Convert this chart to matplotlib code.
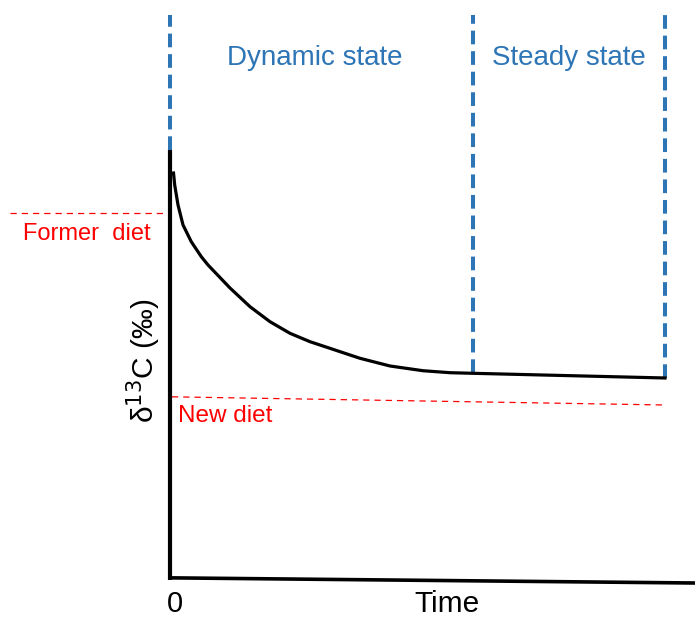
import matplotlib
matplotlib.use("Agg")
import matplotlib.pyplot as plt

# Curve (time, delta13C in arbitrary units)
curve_t = [0.71, 0.95, 1.62, 2.63, 4.30, 6.32, 7.68, 12.12, 16.16, 20.20, 24.24, 28.28,
           32.32, 36.36, 38.38, 44.44, 51.11, 56.57, 61.21, 100.0]
curve_v = [94.65, 91.86, 87.21, 82.56, 78.67, 75.19, 73.26, 67.91, 63.56, 60.07, 57.37, 55.42,
           53.88, 52.33, 51.56, 49.77, 48.67, 48.21, 48.07, 46.98]

# axes drawn as lines
yaxis_t = [0, 0]
yaxis_v = [0, 100]
xaxis_t = [0, 106.1]
xaxis_v = [0.5, -0.7]

# state boundaries (time, bottom value)
bound_t = [0, 61.2, 100.0]
bound_bottom = [100, 48.1, 47.0]
bound_top = 131.4

# diet lines
former_t = [-32.3, -0.4]
former_v = [85.3, 85.3]
new_t = [0.4, 100.0]
new_v = [42.6, 40.7]

state_labels = ["Dynamic state", "Steady state"]
state_label_t = [29.2, 80.6]

fig = plt.figure(figsize=(6.95, 6.21), dpi=100)
ax = fig.add_axes([0, 0, 1, 1])
ax.set_xlim(-170 / 4.95, (695 - 170) / 4.95)
ax.set_ylim((580 - 621) / 4.3, 580 / 4.3)
ax.axis("off")

font = "Liberation Sans"
blue = "#2e75b6"

for t, b in zip(bound_t, bound_bottom):
    ax.plot([t, t], [b, bound_top], color=blue, lw=2.9, dashes=(3.4, 1.7), solid_capstyle="butt", zorder=2)

ax.plot(former_t, former_v, color="#ff0000", lw=0.9, dashes=(5, 4))
ax.plot(new_t, new_v, color="#ff0000", lw=0.9, dashes=(5, 4))

ax.plot(yaxis_t, yaxis_v, color="black", lw=3.0, solid_capstyle="butt", zorder=3)
ax.plot(xaxis_t, xaxis_v, color="black", lw=2.6, solid_capstyle="projecting", zorder=3)
ax.plot(curve_t, curve_v, color="black", lw=2.3, zorder=3, solid_joinstyle="round")

for lab, t in zip(state_labels, state_label_t):
    ax.text(t, 121.4, lab, color=blue, fontsize=20, family=font, ha="center", va="center")

ax.text(-16.8, 80.4, "Former  diet", color="red", fontsize=17, family=font, ha="center", va="center")
ax.text(1.6, 38.1, "New diet", color="red", fontsize=17.5, family=font, ha="left", va="center")
ax.text(-5.4, 50.9, r"δ$^{13}$C (‰)", fontsize=21.5, family=font, rotation=90, ha="center", va="center")
ax.text(1.0, -5.6, "0", fontsize=21, family=font, ha="center", va="center")
ax.text(55.96, -5.6, "Time", fontsize=21.5, family=font, ha="center", va="center")

fig.savefig("out.png", dpi=100)
